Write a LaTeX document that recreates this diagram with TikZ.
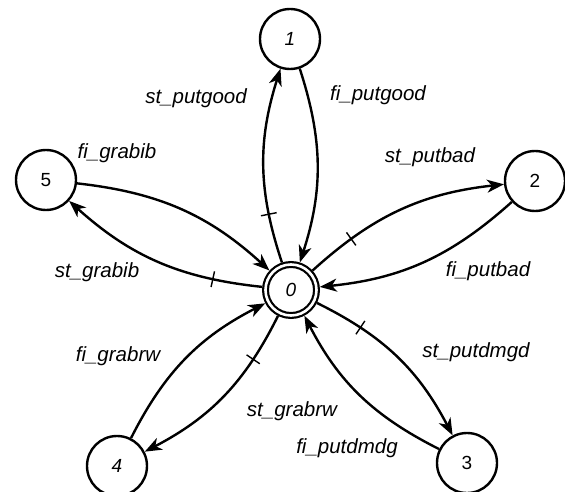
\documentclass[tikz,border=0pt]{standalone}
\usepackage{fontspec}
\setmainfont{Liberation Sans}
\usetikzlibrary{arrows.meta, decorations.markings}

\tikzset{
  state/.style={draw, circle, line width=2.4pt, minimum size=60pt, inner sep=0pt,
    font=\fontsize{19}{22}\selectfont},
  final/.style={draw, circle, double, double distance=2.6pt, line width=2.2pt,
    minimum size=51pt, inner sep=0pt, outer sep=3.5pt, font=\fontsize{19}{22}\selectfont},
  edge/.style={line width=2.4pt, -{Stealth[length=17pt, width=13pt, inset=5pt]}},
  stedge/.style={edge, postaction={decorate}, decoration={markings,
    mark=at position 50pt with {\draw[-, line width=1.4pt] (0,-8pt) -- (0,8pt);}}},
  lbl/.style={font=\fontsize{20.5}{24}\selectfont\itshape, inner sep=0pt}
}

\begin{document}
\begin{tikzpicture}[x=1pt, y=-1pt]
  \useasboundingbox (0,0) rectangle (565,492);
  % the start state
  \node[final] (s0) at (291,290) {\itshape 0};
  % the other states
  \foreach \n/\x/\y/\txt in {
    1/290/39/{\itshape 1},
    2/535/181/2,
    3/467/463/3,
    4/117/466/{\itshape 4},
    5/46/180/5
  }{
    \node[state] (s\n) at (\x,\y) {\txt};
  }
  % start and finish of each action
  \foreach \n in {1,...,5}{
    \draw[stedge] (s0) to[bend left=18] (s\n);
    \draw[edge] (s\n) to[bend left=18] (s0);
  }
  % labels
  \foreach \nm/\x/\y/\txt in {
    stputgood/196/98/st\_putgood,
    fiputgood/378/95/fi\_putgood,
    stputbad/430/157/st\_putbad,
    fiputbad/488/271/fi\_putbad,
    stputdmgd/476/352/st\_putdmgd,
    fiputdmdg/347/448/fi\_putdmdg,
    stgrabrw/292/411/st\_grabrw,
    figrabrw/118/356/fi\_grabrw,
    stgrabib/97/272/st\_grabib,
    figrabib/117/153/fi\_grabib
  }{
    \node[lbl] (\nm) at (\x,\y) {\txt};
  }
\end{tikzpicture}
\end{document}
